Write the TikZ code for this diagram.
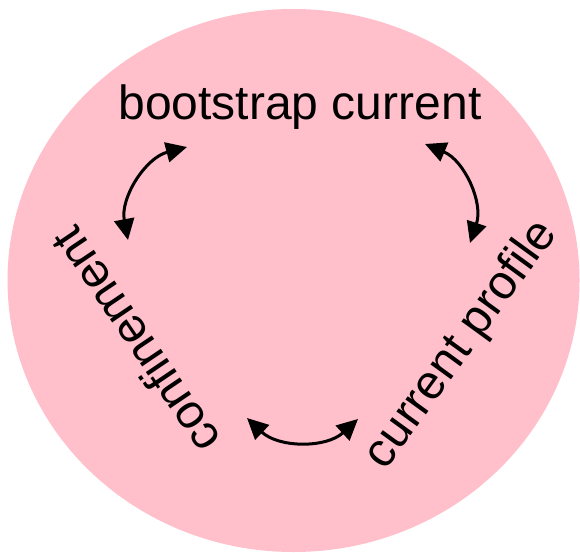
\documentclass[tikz,border=0pt]{standalone}
\usepackage{fontspec}
\setmainfont{Liberation Sans}
\usetikzlibrary{arrows.meta}
\definecolor{bgpink}{RGB}{255,192,203}
\begin{document}
\begin{tikzpicture}[x=1pt,y=-1pt,
  lbl/.style={inner sep=0pt, font=\fontsize{48}{58}\selectfont},
  dbl/.style={line width=3pt, {Triangle[length=21pt,width=20pt]}-{Triangle[length=21pt,width=20pt]}}]
\useasboundingbox (0,0) rectangle (580,553);
\fill[bgpink] (293.5,280.5) ellipse [x radius=286, y radius=271.5];
\node[lbl, anchor=base] (boot) at (300,120) {bootstrap current};
\node[lbl, rotate=124] (conf) at (135,341) {confinement};
\node[lbl, rotate=54] (prof) at (461.5,345) {current profile};
\coordinate (a1) at (128,240);
\coordinate (b1) at (187,147);
\coordinate (a2) at (425,144);
\coordinate (b2) at (470,243);
\coordinate (a3) at (247,418);
\coordinate (b3) at (358,419);
\draw[dbl] (a1) to[bend left=43] (b1);
\draw[dbl] (a2) to[bend left=43] (b2);
\draw[dbl] (a3) to[bend right=43] (b3);
\end{tikzpicture}
\end{document}
